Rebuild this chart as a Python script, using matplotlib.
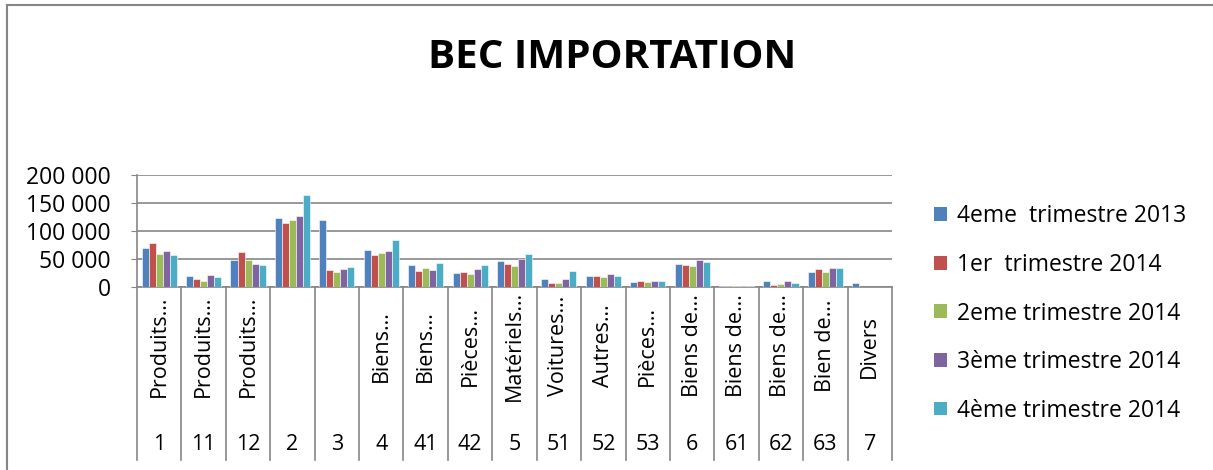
# BEC importation bar chart (quarterly values by BEC code)
import matplotlib
matplotlib.use("Agg")
import matplotlib.pyplot as plt
import matplotlib.transforms as mtransforms
from matplotlib.lines import Line2D
from matplotlib.patches import Patch
from matplotlib.ticker import FuncFormatter

codes = ["1", "11", "12", "2", "3", "4", "41", "42", "5", "51", "52", "53",
         "6", "61", "62", "63", "7"]
names = ["Produits…", "Produits…", "Produits…", "", "", "Biens…", "Biens…",
         "Pièces…", "Matériels…", "Voitures…", "Autres…", "Pièces…",
         "Biens de…", "Biens de…", "Biens de…", "Bien de…", "Divers"]

series = ["4eme  trimestre 2013", "1er  trimestre 2014", "2eme trimestre 2014",
          "3ème trimestre 2014", "4ème trimestre 2014"]
q4_2013 = [69000, 19600, 49000, 124000, 119000, 65500, 38700, 24400, 46400,
           14300, 20200, 8900, 41600, 1800, 11300, 27400, 7100]
q1_2014 = [78000, 15000, 62500, 113600, 30300, 57100, 29200, 26200, 40500,
           7100, 20200, 10700, 39900, 1800, 4200, 32100, 400]
q2_2014 = [59000, 10000, 49000, 119600, 26800, 60000, 34500, 23800, 36900,
           6500, 18400, 9500, 36900, 1800, 4800, 27400, 300]
q3_2014 = [65000, 22000, 41000, 126700, 32100, 64300, 31000, 32100, 50000,
           14300, 23200, 10100, 48800, 1800, 10100, 34500, 400]
q4_2014 = [56500, 18000, 38700, 163600, 35700, 84000, 42200, 39900, 59500,
           28600, 19000, 10100, 44600, 1800, 6500, 33900, 500]
values = [q4_2013, q1_2014, q2_2014, q3_2014, q4_2014]
colors = ["#4F81BD", "#C0504D", "#9BBB59", "#8064A2", "#4BACC6"]

plt.rcParams['font.family'] = ['Open Sans', 'DejaVu Sans']
W, H = 1213, 470
fs = 15.5
fig = plt.figure(figsize=(W / 100, H / 100), dpi=100)
ax = fig.add_axes([137 / W, 1 - 287 / H, (892 - 137) / W, (287 - 175) / H])

bw = 0.158
x = list(range(len(codes)))
for k, vals in enumerate(values):
    ax.bar([i + (k - 2) * bw for i in x], vals, width=bw, color=colors[k],
           edgecolor='white', linewidth=0.4, zorder=3)

ax.set_xlim(-0.5, len(codes) - 0.5)
ax.set_ylim(0, 200000)
ax.set_yticks([0, 50000, 100000, 150000, 200000])
ax.yaxis.set_major_formatter(FuncFormatter(lambda v, p: f"{int(v):,}".replace(",", " ")))
ax.tick_params(axis='y', labelsize=16.5, length=4, color='#868686', pad=15)
ax.set_xticks([])
ax.grid(axis='y', color='#868686', linewidth=1.2, zorder=0)
for s in ['top', 'right']:
    ax.spines[s].set_visible(False)
for s in ['left', 'bottom']:
    ax.spines[s].set_color('#868686')
    ax.spines[s].set_linewidth(1.2)

# multi-level category axis below the plot
tr = mtransforms.blended_transform_factory(ax.transData, fig.transFigure)
for i in range(len(codes) + 1):
    fig.add_artist(Line2D([i - 0.5, i - 0.5], [1 - 287 / H, 1 - 460 / H],
                          transform=tr, color='#868686', linewidth=1.2))
for i in x:
    ax.text(i, 1 - 346 / H, names[i], transform=tr, rotation=90,
            ha='center', va='center', fontsize=fs)
    ax.text(i, 1 - 444 / H, codes[i], transform=tr,
            ha='center', va='center', fontsize=fs)

# title
fig.text(612 / W, 1 - 57 / H, "BEC IMPORTATION", ha='center', va='center',
         fontsize=29, fontweight='bold')

# legend
handles = [Patch(facecolor=c, edgecolor='none') for c in colors]
fig.legend(handles, series, loc='upper left', bbox_to_anchor=(923 / W, 1 - 193 / H),
           frameon=False, fontsize=16.5, handlelength=0.55, handleheight=0.55,
           handletextpad=0.45, labelspacing=1.07, borderpad=0)

# chart area border
fig.add_artist(Line2D([7 / W, 1.0], [1 - 5 / H, 1 - 5 / H], color='#868686', linewidth=1.5))
fig.add_artist(Line2D([7 / W, 7 / W], [1 - 5 / H, 0.0], color='#868686', linewidth=1.5))

fig.savefig("out.png", dpi=100)
